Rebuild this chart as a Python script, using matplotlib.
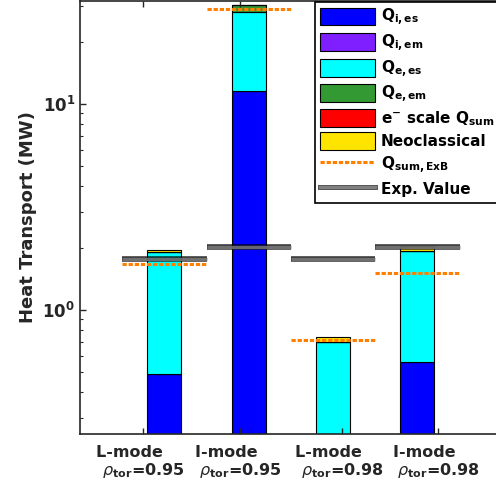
import numpy as np
import matplotlib
matplotlib.use('Agg')
import matplotlib.pyplot as plt
import matplotlib.patheffects as pe
from matplotlib.ticker import FixedLocator, LogLocator, NullFormatter

# cases (one bar each)
cases = ['L-mode', 'I-mode', 'L-mode', 'I-mode']
rho_tor = ['0.95', '0.95', '0.98', '0.98']

# stacked heat flux components (MW)
q_i_es = [0.49, 11.57, 0.0, 0.555]
q_i_em = [0.0, 0.0, 0.0, 0.0]
q_e_es = [1.41, 16.48, 0.70, 1.38]
q_e_em = [0.005, 2.0, 0.0, 0.0]
e_scale = [0.0, 0.0, 0.0, 0.0]
neo = [0.05, 0.05, 0.035, 0.115]

q_sum_exb = [1.665, 29.0, 0.717, 1.518]
exp_value = [1.76, 2.02, 1.76, 2.01]

components = [q_i_es, q_i_em, q_e_es, q_e_em, e_scale, neo]
comp_labels = [r'Q$_{\mathbf{i,es}}$', r'Q$_{\mathbf{i,em}}$', r'Q$_{\mathbf{e,es}}$',
               r'Q$_{\mathbf{e,em}}$', r'e$^{\mathbf{-}}$ scale Q$_{\mathbf{sum}}$', 'Neoclassical']
comp_colors = ['#0000ff', '#7f1fff', '#00ffff', '#339933', '#ff0000', '#ffe400']

fig = plt.figure(figsize=(4.96, 4.95), dpi=100)
ax = fig.add_axes([80 / 496, 61 / 495, 421.7 / 496, 433 / 495])
ax.set_yscale('log')

x = np.arange(1, len(cases) + 1)
bottom = np.full(len(cases), 1e-3)
handles = []
for vals, lab, col in zip(components, comp_labels, comp_colors):
    vals = np.array(vals)
    b = ax.bar(x, vals, 0.4, bottom=bottom, color=col, edgecolor='k', linewidth=0.8, label=lab)
    handles.append(b)
    bottom = bottom + vals

for xi, ev in zip(x, exp_value):
    ax.plot([xi - 0.5, xi + 0.5], [ev, ev], color='#808080', alpha=0.8, lw=2.5,
            solid_capstyle='butt',
            path_effects=[pe.Stroke(linewidth=4, foreground='k', alpha=0.8), pe.Normal()])
for xi, qs in zip(x, q_sum_exb):
    ax.plot([xi - 0.5, xi + 0.5], [qs, qs], color='#ff7f00', lw=2.2, ls=(0, (1.4, 0.6)))

exb_line, = ax.plot([], [], color='#ff7f00', lw=2.2, ls=(0, (1.4, 0.6)))
exp_line, = ax.plot([], [], color='#808080', lw=2.5,
                    path_effects=[pe.Stroke(linewidth=3.5, foreground='#404040'), pe.Normal()])

ax.set_xlim(0, 5)
ax.set_ylim(0.25, 31.6)

tick_pos = [0.75, 1.9, 3.11, 4.25]
ax.set_xticks(tick_pos)
ax.set_xticklabels([c + '     \n' + r'$\rho_{\mathbf{tor}}$=' + r for c, r in zip(cases, rho_tor)],
                   fontsize=11.5, fontweight='bold', color='#262626', linespacing=1.05)
ax.yaxis.set_major_locator(FixedLocator([1, 10]))
ax.yaxis.set_minor_locator(LogLocator(base=10, subs=np.arange(2, 10)))
ax.yaxis.set_minor_formatter(NullFormatter())
ax.set_yticklabels([r'$\mathbf{10^{0}}$', r'$\mathbf{10^{1}}$'], fontsize=12, color='#262626')
ax.set_ylabel('Heat Transport (MW)', fontsize=13, fontweight='bold', color='#262626', labelpad=4)

ax.tick_params(which='both', direction='in', top=True, right=True, colors='#262626')
ax.tick_params(which='major', length=4, width=1)
ax.tick_params(which='minor', length=2.5, width=0.8)
ax.tick_params(axis='x', pad=8)
for s in ax.spines.values():
    s.set_color('#262626')
    s.set_linewidth(1.2)

leg = ax.legend(handles + [exb_line, exp_line],
                comp_labels + [r'Q$_{\mathbf{sum,ExB}}$', 'Exp. Value'],
                loc='upper left', bbox_to_anchor=(315 / 496, 1 - 1.7 / 495),
                bbox_transform=fig.transFigure, borderaxespad=0,
                prop={'size': 11, 'weight': 'bold'},
                handlelength=3.6, handleheight=1.4, handletextpad=0.35, labelspacing=0.28,
                borderpad=0.35, fancybox=False, framealpha=1, edgecolor='k')
leg.get_frame().set_linewidth(1.2)

fig.savefig('out.png', dpi=100)
